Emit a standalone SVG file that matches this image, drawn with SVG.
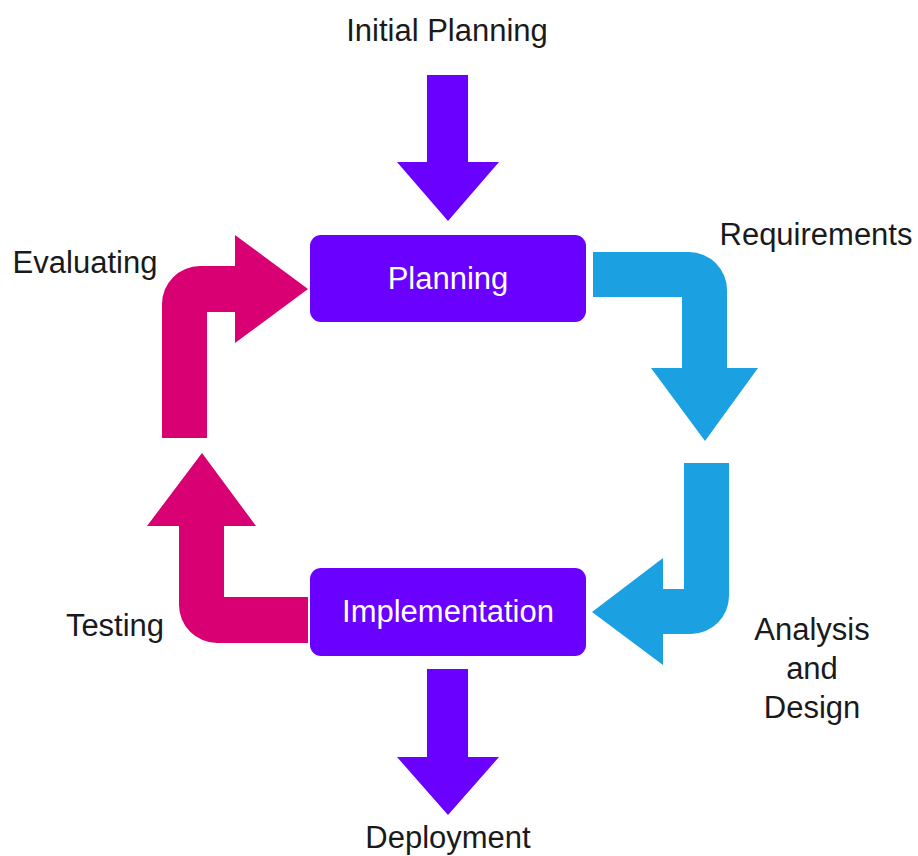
<svg xmlns="http://www.w3.org/2000/svg" width="918" height="856" viewBox="0 0 918 856">
  <style>
    .box { fill: #6a00ff; }
    .box-label { fill: #ffffff; font-family: "Liberation Sans", Arial, sans-serif; font-size: 31px; text-anchor: middle; }
    .label { fill: #1a1a1a; font-family: "Liberation Sans", Arial, sans-serif; font-size: 31px; text-anchor: middle; }
    .flow-main { fill: #6a00ff; }
    .flow-blue { fill: #1ba1e2; }
    .flow-pink { fill: #d80073; }
  </style>
  <rect width="918" height="856" fill="#ffffff"/>

  <!-- block arrows between the phases -->
  <g id="connectors">
    <path id="arrow-initial" class="flow-main" d="M427,75 H468 V162 H499 L448,221 L397,162 H427 Z"/>
    <path id="arrow-requirements" class="flow-blue" d="M593,252 H689 A38,38 0 0 1 727,290 V368 H758 L705,441 L651,368 H682 V297 H593 Z"/>
    <path id="arrow-analysis" class="flow-blue" d="M684,463 H729 V596 A38,38 0 0 1 691,634 H663 V665 L592,612 L663,558 V589 H684 Z"/>
    <path id="arrow-testing" class="flow-pink" d="M308,597 H224 V526 H256 L202,453 L147,526 H179 V605 A38,38 0 0 0 217,643 H308 Z"/>
    <path id="arrow-evaluating" class="flow-pink" d="M162,438 V304 A38,38 0 0 1 200,266 H235 V235 L308,289 L235,343 V312 H207 V438 Z"/>
    <path id="arrow-deployment" class="flow-main" d="M427,669 H468 V757 H499 L448,815 L397,757 H427 Z"/>
  </g>

  <g id="planning">
    <rect class="box" x="310" y="235" width="276" height="87" rx="11"/>
    <text class="box-label" x="448" y="288.5">Planning</text>
  </g>

  <g id="implementation">
    <rect class="box" x="310" y="568" width="276" height="88" rx="11"/>
    <text class="box-label" x="448" y="621.5">Implementation</text>
  </g>

  <!-- stage captions -->
  <g id="labels">
    <text class="label" x="447" y="41">Initial Planning</text>
    <text class="label" x="816" y="245">Requirements</text>
    <text class="label" x="85" y="273">Evaluating</text>
    <text class="label" x="115" y="635.5">Testing</text>
    <text class="label" x="812" y="640">Analysis</text>
    <text class="label" x="812" y="679">and</text>
    <text class="label" x="812" y="718">Design</text>
    <text class="label" x="448" y="848">Deployment</text>
  </g>
</svg>
